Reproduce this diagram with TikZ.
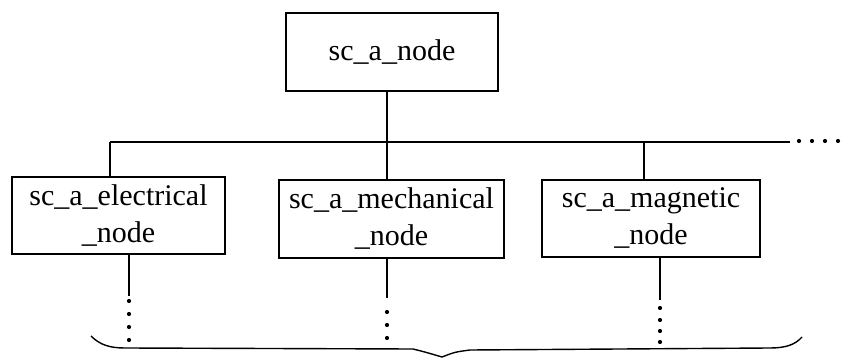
\documentclass[tikz,border=0pt]{standalone}
\usepackage{fontspec}
\setmainfont{Liberation Serif}
\begin{document}
\begin{tikzpicture}[x=1pt,y=-1pt,
  line width=1.4pt,
  box/.style={draw, rectangle, inner sep=0pt, align=center,
    font=\fontsize{30}{37}\selectfont},
  dot/.style={fill=black, draw=none}]
\useasboundingbox (0,0) rectangle (847,358);

% boxes
\node[box, minimum width=212pt, minimum height=78pt] (top) at (392,52) {sc\_a\_node};
\node[box, minimum width=213pt, minimum height=77pt] (e) at (118.5,215.5) {sc\_a\_electrical\\\_node};
\node[box, minimum width=225pt, minimum height=78pt] (m) at (391.5,219) {sc\_a\_mechanical\\\_node};
\node[box, minimum width=218pt, minimum height=77pt] (g) at (651,218.5) {sc\_a\_magnetic\\\_node};

% bus
\coordinate (busL) at (110,142);
\coordinate (busM) at (387,142);
\coordinate (busG) at (644,142);
\coordinate (busR) at (790,142);
\draw (busL) -- (busR);
\draw (top.south -| busM) -- (busM);
\draw (busL) -- (e.north -| busL);
\draw (busM) -- (m.north -| busM);
\draw (busG) -- (g.north -| busG);
\foreach \x in {799,812,825,838} \fill[dot] (\x,141) circle (2.1pt);

% continuations below the boxes
\coordinate (eE) at (129,296);
\coordinate (mE) at (387,298);
\coordinate (gE) at (660,300);
\draw (e.south -| eE) -- (eE);
\draw (m.south -| mE) -- (mE);
\draw (g.south -| gE) -- (gE);
\foreach \y in {301,314,327,340} \fill[dot] (129,\y) circle (2.1pt);
\foreach \y in {312,325,338} \fill[dot] (387,\y) circle (2.1pt);
\foreach \y in {308,320,331,342} \fill[dot] (660,\y) circle (2.1pt);

% brace
\draw (91,336) .. controls (100,345) and (110,348) .. (125,348)
  -- (413,349) .. controls (425,352) .. (442,357)
  .. controls (455,352) .. (470,350) -- (770,348)
  .. controls (785,348) and (795,345) .. (802,337);
\end{tikzpicture}
\end{document}
